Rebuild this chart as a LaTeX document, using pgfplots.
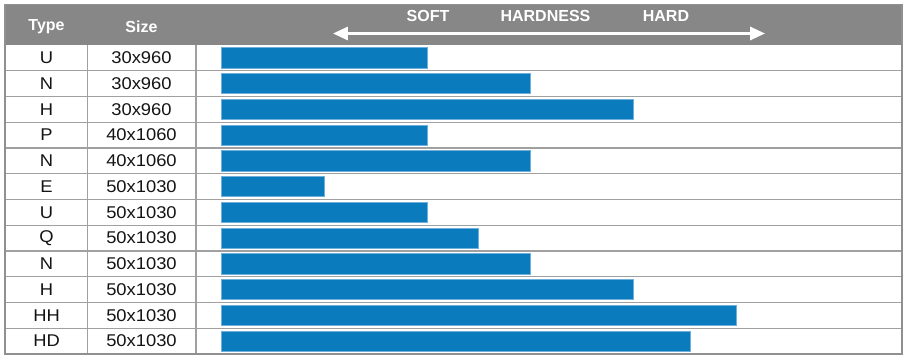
\documentclass[border=0pt]{standalone}
\usepackage{pgfplots}
\pgfplotsset{compat=1.18}
\usepackage{pgfplotstable}
\usepackage{fontspec}
\setmainfont{Liberation Sans}
\newfontfamily\bodyfont[FakeStretch=1.08]{Liberation Sans}
\usetikzlibrary{arrows.meta}
\definecolor{barblue}{RGB}{10,124,190}
\definecolor{baredge}{RGB}{110,175,220}
\definecolor{headgray}{RGB}{135,135,135}
\definecolor{linegray}{RGB}{160,160,160}
\pgfplotstableread{
i h
0 2
1 3
2 4
3 2
4 3
5 1
6 2
7 2.5
8 3
9 4
10 5
11 4.56
}\hardness
\begin{document}
\begin{tikzpicture}
\begin{axis}[
  scale only axis, width=907pt, height=360pt,
  xmin=-2.1456, xmax=6.660,
  ymin=-1.748, ymax=12.233, y dir=reverse,
  hide axis, clip=false,
  xbar, bar width=0.78,
]
\fill[white] (rel axis cs:0,0) rectangle (rel axis cs:1,1);
% header
\fill[headgray] (axis cs:-2.097,-1.573) rectangle (axis cs:6.612,0);
% row lines
\foreach \r in {1,...,11}{\edef\tmp{\noexpand\draw[linegray, line width=1.4pt] (axis cs:-2.097,\r) -- (axis cs:6.612,\r);}\tmp}
\draw[linegray, line width=1.4pt] (axis cs:-1.296,0) -- (axis cs:-1.296,12);
\draw[linegray, line width=1.4pt] (axis cs:-0.2427,0) -- (axis cs:-0.2427,12);
\draw[linegray!90!black, line width=1.5pt] (axis cs:-2.097,-1.573) rectangle (axis cs:6.612,12);
\addplot[fill=barblue, draw=baredge, line width=0.8pt] table[x=h, y expr=\thisrow{i}+0.5] {\hardness};
% header text
\begin{scope}[every node/.style={text=white, font=\fontsize{16}{16}\selectfont\bfseries}]
\node at (axis cs:-1.694,-0.699) {Type};
\node at (axis cs:-0.772,-0.699) {Size};
\node at (axis cs:2.010,-1.126) {SOFT};
\node at (axis cs:3.150,-1.126) {HARDNESS};
\node at (axis cs:4.320,-1.126) {HARD};
\end{scope}
\draw[white, line width=3pt, {Triangle[length=15pt,width=13pt]}-{Triangle[length=15pt,width=13pt]}] (axis cs:1.087,-0.447) -- (axis cs:5.282,-0.447);
% body text
\begin{scope}[every node/.style={text=black!92, font=\bodyfont\fontsize{17}{17}\selectfont}]
\node at (axis cs:-1.694,0.5) {U};  \node at (axis cs:-0.772,0.5) {30x960};
\node at (axis cs:-1.694,1.5) {N};  \node at (axis cs:-0.772,1.5) {30x960};
\node at (axis cs:-1.694,2.5) {H};  \node at (axis cs:-0.772,2.5) {30x960};
\node at (axis cs:-1.694,3.5) {P};  \node at (axis cs:-0.772,3.5) {40x1060};
\node at (axis cs:-1.694,4.5) {N};  \node at (axis cs:-0.772,4.5) {40x1060};
\node at (axis cs:-1.694,5.5) {E};  \node at (axis cs:-0.772,5.5) {50x1030};
\node at (axis cs:-1.694,6.5) {U};  \node at (axis cs:-0.772,6.5) {50x1030};
\node at (axis cs:-1.694,7.5) {Q};  \node at (axis cs:-0.772,7.5) {50x1030};
\node at (axis cs:-1.694,8.5) {N};  \node at (axis cs:-0.772,8.5) {50x1030};
\node at (axis cs:-1.694,9.5) {H};  \node at (axis cs:-0.772,9.5) {50x1030};
\node at (axis cs:-1.694,10.5) {HH}; \node at (axis cs:-0.772,10.5) {50x1030};
\node at (axis cs:-1.694,11.5) {HD}; \node at (axis cs:-0.772,11.5) {50x1030};
\end{scope}
\end{axis}
\end{tikzpicture}
\end{document}
